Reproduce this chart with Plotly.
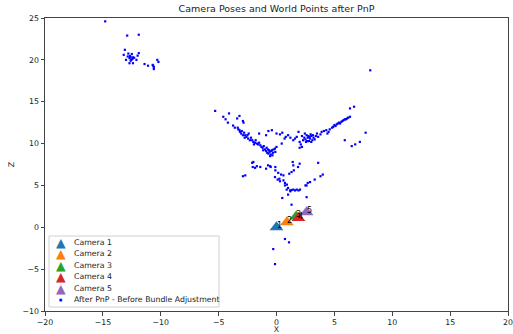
import plotly.graph_objects as go

# ---- data ----
cam_names = ["Camera 1", "Camera 2", "Camera 3", "Camera 4", "Camera 5"]
cam_labels = ["1", "2", "3", "4", "5"]
cam_x = [0.0, 0.9, 1.7, 1.9, 2.6]
cam_z = [0.0, 0.6, 1.3, 1.1, 1.8]
cam_colors = ["#1f77b4", "#ff7f0e", "#2ca02c", "#d62728", "#9467bd"]
points_name = "After PnP - Before Bundle Adjustment"

pts_top_left = [
    (-14.8, 24.6), (-12.9, 22.9), (-11.9, 23.0), (-13.1, 21.2), (-13.2, 20.6), (-12.8, 20.75),
    (-12.5, 20.7), (-11.9, 20.8), (-12.0, 20.5), (-13.0, 20.0), (-12.1, 20.0), (-12.7, 19.6),
    (-12.4, 19.6), (-12.6, 19.9), (-12.6, 20.3), (-12.4, 20.3), (-12.7, 20.2), (-12.55, 20.0),
    (-12.45, 20.1), (-12.3, 20.25), (-12.65, 20.45), (-11.4, 19.5), (-11.1, 19.3), (-10.7, 19.4),
    (-10.6, 19.15), (-10.6, 18.9), (-10.3, 20.0), (-10.2, 19.75), (-10.65, 19.3), (-12.85, 20.4),
]
pts_left_arm = [
    (-5.3, 13.9), (-4.6, 13.2), (-4.4, 12.9), (-4.1, 13.6), (-4.2, 12.5), (-3.75, 12.15),
    (-3.4, 13.0), (-3.2, 13.3), (-2.9, 12.7), (-2.85, 12.5), (-3.35, 11.9), (-3.3, 11.7),
    (-3.2, 11.6), (-3.15, 11.4), (-3.0, 11.5), (-3.05, 11.2), (-2.9, 11.0), (-2.8, 11.3),
    (-2.7, 11.0), (-2.6, 10.8), (-2.5, 11.0), (-2.45, 10.6), (-2.3, 10.4), (-2.2, 10.7),
    (-2.1, 10.4), (-2.0, 10.2), (-1.86, 10.1), (-1.8, 10.4), (-1.7, 10.0), (-1.6, 9.9),
    (-1.5, 10.1), (-1.4, 9.8), (-1.3, 9.6), (-1.2, 9.5), (-1.1, 9.7), (-1.0, 9.3),
    (-0.9, 9.1), (-0.85, 9.5), (-0.8, 8.9), (-0.7, 8.8), (-0.65, 9.2), (-0.6, 9.0),
    (-0.5, 8.7), (-0.45, 9.1), (-0.4, 9.2), (-0.3, 8.9), (-0.25, 9.3), (-0.13, 9.4),
    (-0.1, 9.0), (0.0, 9.6), (-0.55, 8.5), (-0.35, 8.6), (-2.4, 11.2), (-1.5, 11.2),
    (-0.9, 11.0), (-3.6, 11.9), (-2.75, 10.7), (-1.95, 9.9), (-1.15, 9.2), (-0.75, 9.3),
]
pts_right_arm = [
    (-0.7, 11.5), (-0.4, 11.6), (0.0, 11.2), (0.3, 11.1), (0.5, 11.3), (0.45, 10.0),
    (0.7, 10.6), (0.8, 10.8), (1.0, 11.0), (1.2, 10.7), (1.45, 10.4), (1.6, 10.6),
    (1.75, 10.8), (2.0, 10.2), (2.2, 9.6), (2.1, 9.9), (2.0, 9.5), (2.3, 10.4),
    (2.2, 10.9), (2.5, 10.5), (2.6, 11.0), (2.7, 10.7), (2.8, 10.3), (2.9, 10.6),
    (3.0, 10.9), (3.1, 10.4), (2.95, 11.1), (2.75, 10.9), (3.2, 10.7), (3.3, 10.5),
    (2.85, 10.8), (2.65, 10.3), (3.0, 10.2), (3.4, 10.9), (3.5, 11.2), (3.6, 10.8),
    (3.9, 11.4), (3.8, 11.1), (4.1, 11.5), (4.3, 11.6), (4.5, 11.4), (4.6, 11.7),
    (4.8, 11.9), (4.9, 12.0), (5.0, 12.2), (5.1, 12.1), (5.2, 12.3), (5.3, 12.4),
    (5.4, 12.5), (5.5, 12.4), (5.6, 12.6), (5.7, 12.7), (5.8, 12.8), (5.9, 12.9),
    (6.0, 12.9), (6.1, 13.0), (6.2, 13.1), (6.35, 13.2), (6.35, 14.2), (6.7, 14.4),
    (7.7, 11.3), (5.9, 10.4), (6.5, 9.7), (6.8, 9.9), (7.2, 10.2), (8.1, 18.75),
    (2.4, 10.7), (2.55, 10.2), (3.15, 11.0), (2.45, 11.2), (1.9, 11.4), (4.4, 11.2),
]
pts_lower = [
    (-2.9, 6.1), (-2.7, 6.2), (-2.1, 7.7), (-2.05, 7.2), (-1.7, 7.3), (-1.4, 7.2),
    (-0.9, 7.0), (-0.5, 7.2), (-0.1, 7.2), (-0.1, 6.8), (-2.0, 7.8), (-1.85, 7.1),
    (-0.55, 7.3), (-0.13, 6.0), (0.25, 5.8), (0.3, 5.5), (0.6, 6.2), (0.73, 5.0),
    (0.88, 4.5), (1.17, 4.4), (1.45, 4.5), (1.75, 4.5), (2.03, 4.5), (1.3, 4.45),
    (1.6, 4.4), (1.0, 3.9), (0.5, 3.5), (1.3, 6.6), (1.4, 7.8), (1.45, 7.4),
    (2.0, 7.6), (2.6, 5.0), (2.9, 5.4), (3.3, 5.7), (3.6, 7.7), (3.8, 6.1),
    (4.0, 6.3), (2.6, 3.6), (1.3, 2.7), (0.15, 6.5), (0.4, 6.3), (1.1, 6.4),
    (1.5, 6.8), (0.9, 5.1), (1.0, 4.7), (0.6, 5.6), (-0.73, 7.4), (1.86, 7.2),
    (2.7, 5.3), (2.5, 5.0), (1.2, 4.3), (1.9, 4.4), (0.73, 5.3), (0.1, 5.7),
]
pts_below = [(-0.28, -2.6), (-0.13, -4.4), (0.73, -1.4), (1.08, -1.8)]

all_pts = pts_top_left + pts_left_arm + pts_right_arm + pts_lower + pts_below
pts_x = [p[0] for p in all_pts]
pts_z = [p[1] for p in all_pts]

x_ticks = [-20, -15, -10, -5, 0, 5, 10, 15, 20]
z_ticks = [-10, -5, 0, 5, 10, 15, 20, 25]

# ---- layout geometry (pixels) ----
W, H = 513, 334
ML, MR, MT, MB = 45, 5, 18, 23
PW, PH = W - ML - MR, H - MT - MB

def px_to_paper(px, py):
    return (px - ML) / PW, (H - MB - py) / PH

FONT = "DejaVu Sans"
TXT = "#222"
FS = 7.8

fig = go.Figure()
fig.add_trace(go.Scatter(
    x=pts_x, y=pts_z, mode="markers", name=points_name,
    marker=dict(symbol="square", size=2.2, color="blue", line=dict(width=0)),
))
for i in range(len(cam_names)):
    fig.add_trace(go.Scatter(
        x=[cam_x[i]], y=[cam_z[i]], mode="markers", name=cam_names[i],
        marker=dict(symbol="triangle-up", size=12, color=cam_colors[i], line=dict(width=0)),
    ))
    fig.add_annotation(
        x=cam_x[i], y=cam_z[i], text=cam_labels[i], showarrow=False,
        xanchor="left", yanchor="bottom", xshift=-1, yshift=-4, borderpad=0,
        font=dict(family=FONT, size=8, color="black"),
    )

# ---- custom legend (matplotlib-like compact rows) ----
bx0, by0 = px_to_paper(49, 307)
bx1, by1 = px_to_paper(219, 236)
fig.add_shape(type="rect", xref="paper", yref="paper", x0=bx0, y0=by0, x1=bx1, y1=by1,
              line=dict(color="#d0d0d0", width=1), fillcolor="rgba(255,255,255,0.85)",
              layer="above")
leg_labels = cam_names + [points_name]
leg_syms = ["\u25B2"] * len(cam_names) + ["\u25A0"]
leg_cols = cam_colors + ["blue"]
leg_sizes = [12.5] * len(cam_names) + [3.5]
row0, row_step = 242.5, 11.4
for k in range(len(leg_labels)):
    cy = row0 + k * row_step
    sx, sy = px_to_paper(60.5, cy)
    tx, ty = px_to_paper(73, cy)
    fig.add_annotation(xref="paper", yref="paper", x=sx, y=sy, text=leg_syms[k],
                       showarrow=False, xanchor="center", yanchor="middle", borderpad=0,
                       font=dict(family=FONT, size=leg_sizes[k], color=leg_cols[k]))
    fig.add_annotation(xref="paper", yref="paper", x=tx, y=ty, text=leg_labels[k],
                       showarrow=False, xanchor="left", yanchor="middle", borderpad=0,
                       font=dict(family=FONT, size=FS, color=TXT))

axis_common = dict(
    showgrid=False, zeroline=False, showline=True, linecolor="#444", linewidth=1,
    mirror=True, ticks="outside", ticklen=3.5, tickcolor="#444", automargin=False,
    tickfont=dict(family=FONT, size=FS, color=TXT),
)
fig.update_xaxes(range=[-20, 20], tickvals=x_ticks,
                 title=dict(text="X", font=dict(family=FONT, size=FS, color=TXT), standoff=1),
                 **axis_common)
fig.update_yaxes(range=[-10, 25], tickvals=z_ticks,
                 title=dict(text="Z", font=dict(family=FONT, size=FS, color=TXT), standoff=6),
                 **axis_common)

fig.update_layout(
    width=W, height=H,
    margin=dict(l=ML, r=MR, t=MT, b=MB, autoexpand=False),
    paper_bgcolor="white", plot_bgcolor="white",
    title=dict(text="Camera Poses and World Points after PnP", x=(ML + PW / 2) / W, xanchor="center",
               y=1 - 5.5 / H, yanchor="top", automargin=False,
               font=dict(family=FONT, size=9.5, color=TXT)),
    showlegend=False,
)

fig.write_html("out.html", config={"displayModeBar": False},
               post_script="document.body.style.margin='0';document.body.style.padding='0';")
